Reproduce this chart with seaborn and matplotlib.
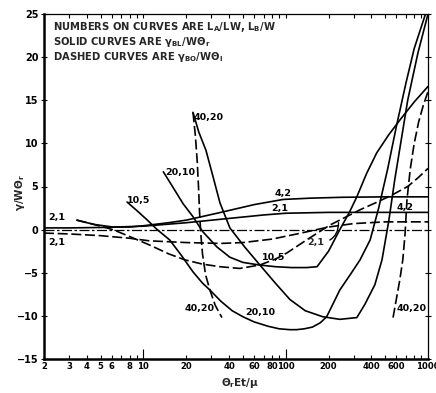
import matplotlib
matplotlib.use("Agg")
import matplotlib.pyplot as plt
import numpy as np
import pandas as pd
import seaborn as sns

sns.set_theme(style="ticks")
plt.rcParams['font.family'] = ['DejaVu Sans']
plt.rcParams['mathtext.default'] = 'regular'

# ---- curve data: x = theta_r E t / mu, y = gamma / W theta ----
s21_x = [2, 3, 5, 10, 20, 40, 70, 100, 200, 400, 1000]
s21_y = [0.2, 0.2, 0.25, 0.4, 0.8, 1.3, 1.7, 1.9, 2.0, 2.0, 2.0]

d21_x = [2, 3, 5, 8, 11, 20, 35, 50, 80, 120, 200, 300, 500, 1000]
d21_y = [-0.4, -0.5, -0.7, -1.0, -1.3, -1.5, -1.6, -1.5, -1.1, -0.5, 0.3, 0.7, 0.9, 0.9]

s42_x = [3.4, 4.5, 6.1, 8, 10, 15, 20, 35, 60, 96, 150, 250, 500, 1000]
s42_y = [1.1, 0.6, 0.3, 0.3, 0.45, 0.8, 1.1, 2.0, 2.9, 3.5, 3.65, 3.75, 3.8, 3.8]

d42_x = [3.4, 4.5, 6.1, 8, 11.1, 15, 19.5, 26, 34.5, 47.5, 65.8, 85, 102, 140,
         203, 260, 333, 440, 557, 720, 850, 1000]
d42_y = [1.1, 0.6, 0.0, -0.8, -1.8, -2.8, -3.5, -4.0, -4.3, -4.5, -4.1, -3.4, -2.7, -1.2,
         0.5, 1.4, 2.3, 3.2, 4.0, 5.0, 6.0, 7.1]

s105_x = [7.67, 9, 10.5, 12.5, 15.3, 18.5, 22.3, 26, 29.3, 35, 42, 50, 60, 75, 90, 107,
          119, 135, 154, 175, 194, 240, 290, 333, 392, 450, 520, 600, 700, 800, 960]
s105_y = [3.2, 2.2, 1.2, 0.0, -1.2, -3.0, -4.9, -6.2, -7.0, -8.3, -9.4, -10.1, -10.7, -11.2,
          -11.5, -11.6, -11.6, -11.5, -11.3, -10.8, -10.1, -7.0, -5.0, -3.5, -1.2, 2.5, 7.0,
          12.0, 17.0, 21.0, 25.0]

s2010_x = [13.8, 16, 19, 22.3, 26, 32.8, 40.5, 50, 65, 85, 110, 140, 166, 200, 240, 280,
           316, 370, 436, 530, 634, 800, 1000]
s2010_y = [6.7, 5.0, 3.0, 1.5, -0.2, -2.0, -3.2, -3.8, -4.1, -4.3, -4.4, -4.4, -4.3, -2.5,
           0.0, 2.0, 3.8, 6.5, 8.9, 11.0, 12.7, 14.8, 16.6]

s4020_x = [22.3, 24.5, 27.5, 31, 34.5, 40.5, 51.4, 65.8, 84.5, 107, 137, 182, 240, 316,
           359, 423, 475, 530, 584, 650, 720, 850, 1000]
s4020_y = [13.6, 11.3, 9.2, 6.0, 3.1, 0.2, -2.0, -4.1, -6.2, -8.1, -9.4, -10.1, -10.4,
           -10.2, -8.7, -6.4, -3.5, 1.0, 5.8, 10.5, 15.0, 20.5, 25.0]

d4020a_x = [22.3, 23.2, 23.9, 24.4, 24.8, 25.3, 26.0, 27.3, 29.3, 32.0, 35.6]
d4020a_y = [13.6, 10.8, 7.8, 4.8, 2.0, -0.5, -2.8, -5.2, -7.0, -8.8, -10.2]

d4020b_x = [568, 600, 634, 665, 690, 711, 750, 800, 860, 930, 1000]
d4020b_y = [-10.2, -8.0, -5.8, -3.5, -0.5, 3.4, 7.0, 10.0, 12.5, 14.5, 16.0]

curves = [
    ("s21", "solid", s21_x, s21_y),
    ("d21", "dashed", d21_x, d21_y),
    ("s42", "solid", s42_x, s42_y),
    ("d42", "dashed", d42_x, d42_y),
    ("s105", "solid", s105_x, s105_y),
    ("s2010", "solid", s2010_x, s2010_y),
    ("s4020", "solid", s4020_x, s4020_y),
    ("d4020a", "dashed", d4020a_x, d4020a_y),
    ("d4020b", "dashed", d4020b_x, d4020b_y),
]

frames = []
for name, kind, xs, ys in curves:
    frames.append(pd.DataFrame({"curve": name, "kind": kind, "x": xs, "y": ys}))
df = pd.concat(frames, ignore_index=True)

# ---- figure ----
fig = plt.figure(figsize=(4.36, 3.93), dpi=100)
ax = fig.add_axes([44 / 436, 1 - 359 / 393, 384 / 436, 345 / 393])
ax.set_xscale("log")

# zero reference line
ax.plot([2, 1000], [0, 0], color="black", lw=0.9, ls=(0, (8, 2, 2, 2)))

sns.lineplot(data=df, x="x", y="y", units="curve", style="kind",
             dashes={"solid": "", "dashed": (6, 2.2)}, color="black",
             estimator=None, sort=False, legend=False, lw=1.2, ax=ax)

ax.set_xlim(2, 1000)
ax.set_ylim(-15, 25)

# ticks
xtick_vals = [2, 3, 4, 5, 6, 8, 10, 20, 40, 60, 80, 100, 200, 400, 600, 1000]
xtick_labels = ["2", "3", "4", "5", "6", "8", "10", "20", "40", "60", "80", "100",
                "200", "400", "600", "1000"]
ax.set_xticks(xtick_vals)
ax.set_xticklabels(xtick_labels)
minor_vals = [7, 9, 30, 50, 70, 90, 300, 500, 700, 800, 900]
ax.set_xticks(minor_vals, minor=True)
ax.xaxis.set_minor_formatter(matplotlib.ticker.NullFormatter())

ytick_vals = [-15, -10, -5, 0, 5, 10, 15, 20, 25]
ax.set_yticks(ytick_vals)
ax.set_yticklabels(["\u221215", "\u221210", "\u22125", "0", "5", "10", "15", "20", "25"])

ax.tick_params(axis="both", which="both", direction="in", top=True, right=True,
               length=3, width=0.8, colors="black", labelsize=7, pad=2)
ax.tick_params(axis="x", which="major", labelsize=6.1)
ax.tick_params(axis="y", which="major", direction="inout", length=4, pad=2)
for t in ax.xaxis.get_major_ticks():
    if t.get_loc() in (10, 100):
        t.tick1line.set_markersize(7)

for lbl in ax.get_xticklabels() + ax.get_yticklabels():
    lbl.set_fontweight("bold")

for side in ("left", "bottom"):
    ax.spines[side].set_linewidth(1.8)
for side in ("top", "right"):
    ax.spines[side].set_linewidth(0.9)
for sp in ax.spines.values():
    sp.set_color("black")

ax.set_xlabel("")
ax.set_ylabel("")
fig.text(20 / 436, 1 - 193 / 393, r"$\gamma$/W$\Theta_r$", rotation=90,
         ha="center", va="center", fontsize=7.5, fontweight="bold")
fig.text(240 / 436, 1 - 383 / 393, r"$\Theta_r$Et/$\mu$", ha="center", va="center",
         fontsize=7.5, fontweight="bold")

# heading notes
note_kw = dict(transform=ax.transAxes, ha="left", va="center", fontsize=7.2,
               fontweight="bold")
ax.text(0.023, 0.962, "NUMBERS ON CURVES ARE L$_A$/LW, L$_B$/W", **note_kw)
ax.text(0.023, 0.919, r"SOLID CURVES ARE $\gamma_{BL}$/W$\Theta_r$", **note_kw)
ax.text(0.023, 0.875, r"DASHED CURVES ARE $\gamma_{BO}$/W$\Theta_I$", **note_kw)

# curve labels
lab_kw = dict(ha="center", va="center", fontsize=6.8, fontweight="bold", color="black")
ax.text(2.45, 1.4, "2,1", **lab_kw)
ax.text(2.45, -1.55, "2,1", **lab_kw)
ax.text(9.3, 3.4, "10,5", **lab_kw)
ax.text(18.2, 6.6, "20,10", **lab_kw)
ax.text(28.5, 13.05, "40,20", **lab_kw)
ax.text(95.6, 4.2, "4,2", **lab_kw)
ax.text(90.6, 2.4, "2,1", **lab_kw)
ax.text(81.6, -3.2, "10,5", **lab_kw)
ax.text(686, 2.6, "4,2", **lab_kw)
ax.text(24.6, -9.1, "40,20", **lab_kw)
ax.text(65.8, -9.6, "20,10", **lab_kw)
ax.text(770, -9.2, "40,20", **lab_kw)
ax.annotate("2,1", xy=(235, 0.8), xytext=(162, -1.55), ha="center", va="center",
            fontsize=6.8, fontweight="bold",
            arrowprops=dict(arrowstyle="-", lw=1.0, color="black",
                            connectionstyle="angle3,angleA=0,angleB=90",
                            shrinkA=2, shrinkB=0))

fig.savefig("out.png", dpi=100, facecolor="white")
